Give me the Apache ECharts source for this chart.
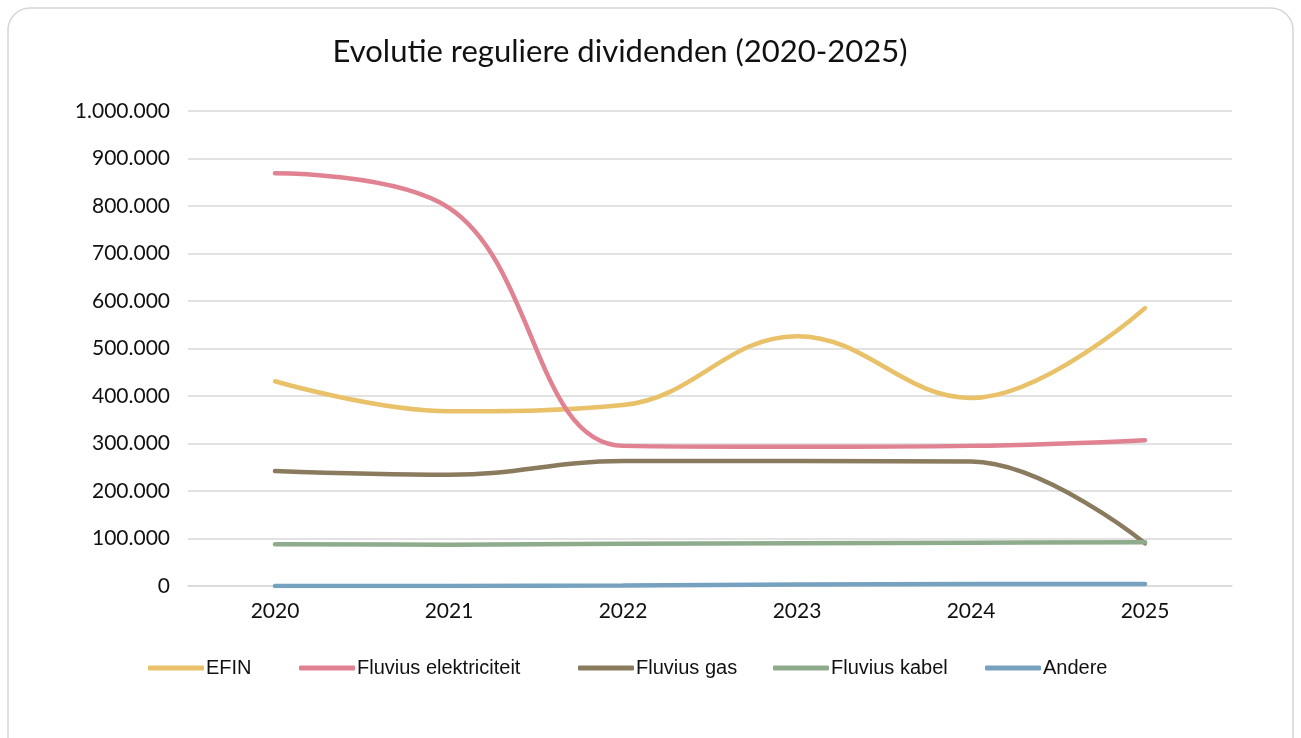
<!DOCTYPE html>
<html>
<head>
<meta charset="utf-8">
<script src="https://cdn.jsdelivr.net/npm/echarts@6/dist/echarts.min.js"></script>
<style>
  html, body { margin: 0; padding: 0; background: #fff; }
  #chart { width: 1301px; height: 738px; }
</style>
</head>
<body>
<div id="chart"></div>
<script>
const years = ['2020', '2021', '2022', '2023', '2024', '2025'];
const efin = [431000, 368000, 381000, 526000, 396000, 585000];
const elektriciteit = [869000, 796000, 295000, 293000, 295000, 307000];
const gas = [242000, 234000, 263000, 263000, 262000, 90000];
const kabel = [88000, 87000, 89000, 90000, 91000, 92000];
const andere = [0, 0, 1000, 3000, 4000, 4000];

const seriesNames = ['EFIN', 'Fluvius elektriciteit', 'Fluvius gas', 'Fluvius kabel', 'Andere'];
const seriesValues = [efin, elektriciteit, gas, kabel, andere];
const colors = ['#E8C168', '#E08292', '#8A7A5E', '#8EAC8B', '#76A2BF'];

// legend slots as Excel lays them out
const legendLeft = [148, 299, 578, 773, 985];

function fmt(v) {
  return String(v).replace(/\B(?=(\d{3})+(?!\d))/g, '.');
}

const chart = echarts.init(document.getElementById('chart'));

chart.setOption({
  animation: false,
  color: colors,
  title: {
    text: 'Evolutie reguliere dividenden (2020-2025)',
    left: 615,
    top: 31,
    textAlign: 'center',
    textStyle: { fontFamily: 'Lato', fontWeight: 'normal', fontSize: 31, color: '#111' }
  },
  graphic: [{
    type: 'rect',
    shape: { x: 8, y: 8, width: 1285, height: 760, r: 22 },
    style: { fill: 'none', stroke: '#d6d6d6', lineWidth: 1.5 },
    z: -1
  }],
  legend: seriesNames.map((name, i) => ({
    top: 658,
    left: legendLeft[i],
    padding: 0,
    itemWidth: 56,
    itemHeight: 5,
    icon: 'roundRect',
    textStyle: { fontFamily: 'Liberation Sans', fontSize: 20, color: '#111', padding: [0, 0, 0, -3] },
    data: [name]
  })),
  grid: { left: 188, right: 69, top: 111, bottom: 152 },
  xAxis: {
    type: 'category',
    data: years,
    boundaryGap: true,
    axisLine: { lineStyle: { color: '#d9d9d9', width: 1.5 } },
    axisTick: { show: false },
    axisLabel: { fontFamily: 'Lato', fontSize: 21, color: '#111', margin: 15 }
  },
  yAxis: {
    type: 'value',
    min: 0,
    max: 1000000,
    interval: 100000,
    axisLine: { show: false },
    axisTick: { show: false },
    splitLine: { lineStyle: { color: '#d9d9d9', width: 1.5 } },
    axisLabel: { fontFamily: 'Lato', fontSize: 21, color: '#111', margin: 18, formatter: fmt }
  },
  series: seriesNames.map((name, i) => ({
    name: name,
    type: 'line',
    data: seriesValues[i],
    smooth: 0.4,
    showSymbol: false,
    symbol: 'none',
    lineStyle: { width: 4.5, cap: 'round' }
  }))
});
</script>
</body>
</html>
